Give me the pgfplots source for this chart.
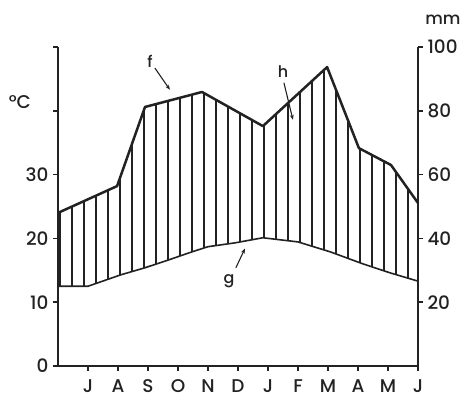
\documentclass[border=0pt]{standalone}
\usepackage{pgfplots}
\pgfplotsset{compat=1.18}
\usepackage{pgfplotstable}
\usepgfplotslibrary{fillbetween}
\usetikzlibrary{patterns.meta,arrows.meta}
\usepackage{fontspec}
\setmainfont{Poppins}[UprightFont=* Medium]
\definecolor{ink}{HTML}{222222}

\pgfplotstableread{
x T
0 12.5
1 12.5
2.1 14.3
2.9 15.4
3.67 16.6
4.47 17.9
5 18.7
5.9 19.3
6.83 20.1
8 19.45
9.07 17.9
10.17 16.0
11.07 14.6
12 13.3
}\temptable

\pgfplotstableread{
x P
0 48.0
1.97 56.4
2.9 81.2
4.8 85.9
6.83 75.2
8.97 93.7
10.03 68.3
11.1 63.0
12 51.1
}\prectable

\begin{document}
\begin{tikzpicture}
\begin{axis}[
  at={(0,0)}, anchor=south west,
  scale only axis, width=360bp, height=319bp,
  xmin=0, xmax=12, ymin=0, ymax=50,
  axis x line*=bottom, axis y line*=left,
  axis line style={ink, line width=1.9bp, -},
  tick style={ink, line width=1.5bp},
  major tick length=5bp,
  tick align=outside,
  xtick={1,...,12}, xticklabels={J,A,S,O,N,D,J,F,M,A,M,J},
  ytick={0,10,...,50}, yticklabels={0,10,20,30,{},{}},
  tick label style={font=\fontsize{18.5}{18.5}\selectfont, text=ink},
  /pgf/number format/assume math mode=true,
  xticklabel style={yshift=-5bp},
  yticklabel style={xshift=-1bp},
  clip=false,
]
\addplot[name path=P, ink, line width=2.5bp, line join=round] table[x=x, y expr=\thisrow{P}/2] {\prectable};
\addplot[name path=T, ink, line width=1.6bp, line join=round] table[x=x, y=T] {\temptable};
\addplot[pattern={Lines[angle=90, distance=12bp, line width=1.25bp]}, pattern color=ink, draw=none] fill between[of=P and T];
\node[font=\fontsize{18.5}{18.5}\selectfont, text=ink] at (axis cs:-1.27,41.3) {°C};
\node[font=\fontsize{17}{17}\selectfont, text=ink] at (axis cs:12.83,54.3) {mm};
\node[font=\fontsize{16}{16}\selectfont, text=ink] at (axis cs:3.07,47.7) {f};
\draw[ink, line width=1.1bp, -{Stealth[length=5bp,width=4bp]}] (axis cs:3.23,46.7) -- (axis cs:3.73,43.3);
\node[font=\fontsize{16}{16}\selectfont, text=ink] at (axis cs:7.5,46.1) {h};
\draw[ink, line width=1.1bp, -{Stealth[length=5bp,width=4bp]}] (axis cs:7.53,44.4) -- (axis cs:7.83,38.6);
\node[font=\fontsize{16}{16}\selectfont, text=ink] at (axis cs:5.7,13.3) {g};
\draw[ink, line width=1.1bp, -{Stealth[length=5bp,width=4bp]}] (axis cs:5.93,15.4) -- (axis cs:6.23,18.4);
\end{axis}
\begin{axis}[
  at={(0,0)}, anchor=south west,
  scale only axis, width=360bp, height=319bp,
  xmin=0, xmax=12, ymin=0, ymax=100,
  axis x line*=bottom, axis y line*=right,
  x axis line style={draw=none}, xtick=\empty,
  y axis line style={ink, line width=1.9bp, -},
  tick style={ink, line width=1.5bp},
  major tick length=5bp,
  tick align=outside,
  ytick={20,40,...,100},
  tick label style={font=\fontsize{18.5}{18.5}\selectfont, text=ink},
  yticklabel style={xshift=1bp},
  /pgf/number format/assume math mode=true,
]
\addplot[draw=none] coordinates {(0,0) (12,100)};
\end{axis}
\path (-58bp,-32bp) rectangle (414bp,366bp);
\end{tikzpicture}
\end{document}
